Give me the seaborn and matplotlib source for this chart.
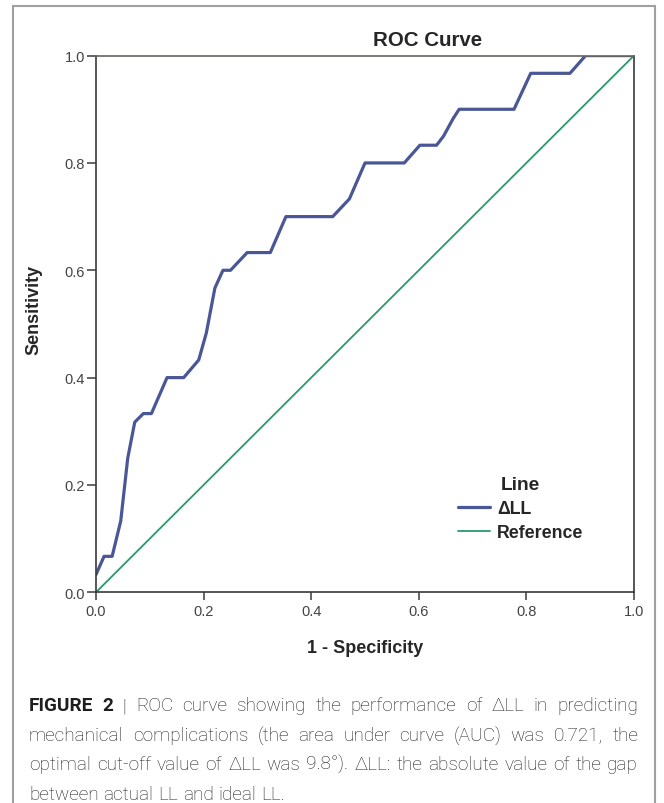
import matplotlib
matplotlib.use("Agg")
import matplotlib.pyplot as plt
import seaborn as sns
import pandas as pd
from matplotlib.patches import Rectangle

# ROC points (1 - specificity, sensitivity)
fpr = [0.0, 0.015, 0.030, 0.046, 0.059, 0.072, 0.088, 0.103, 0.132, 0.163,
       0.191, 0.205, 0.221, 0.236, 0.250, 0.281, 0.324, 0.353, 0.440, 0.471,
       0.500, 0.573, 0.602, 0.633, 0.646, 0.664, 0.675, 0.777, 0.808, 0.881,
       0.910, 1.0]
tpr = [0.033, 0.067, 0.067, 0.133, 0.250, 0.317, 0.333, 0.333, 0.400, 0.400,
       0.433, 0.483, 0.567, 0.600, 0.600, 0.633, 0.633, 0.700, 0.700, 0.733,
       0.800, 0.800, 0.833, 0.833, 0.850, 0.883, 0.900, 0.900, 0.967, 0.967,
       1.0, 1.0]
ref_x = [0.0, 1.0]
ref_y = [0.0, 1.0]
series_names = ["ΔLL", "Reference"]
tick_vals = [0.0, 0.2, 0.4, 0.6, 0.8, 1.0]
tick_labels = ["0.0", "0.2", "0.4", "0.6", "0.8", "1.0"]

caption_lines = [
    [("FIGURE 2", "bold"), ("| ROC curve showing the performance of ΔLL in predicting", "light")],
    [("mechanical complications (the area under curve (AUC) was 0.721, the", "light")],
    [("optimal cut-off value of ΔLL was 9.8°). ΔLL: the absolute value of the gap", "light")],
    [("between actual LL and ideal LL.", "light")],
]

sns.set_style("ticks")
plt.rcParams["font.family"] = ["Liberation Sans", "DejaVu Sans"]

W, H = 664, 804
fig = plt.figure(figsize=(W / 100, H / 100), dpi=100)
ax = fig.add_axes([96 / W, 1 - 593.3 / H, 538 / W, 536.7 / H])

roc = pd.DataFrame({"x": fpr, "y": tpr})
ref = pd.DataFrame({"x": ref_x, "y": ref_y})
sns.lineplot(data=roc, x="x", y="y", ax=ax, color="#4a5796", lw=2.3,
             label=series_names[0], estimator=None, sort=False)
sns.lineplot(data=ref, x="x", y="y", ax=ax, color="#279a6c", lw=1.3,
             label=series_names[1], estimator=None, sort=False)

ax.set_xlim(0, 1)
ax.set_ylim(0, 1)
ax.set_xticks(tick_vals, tick_labels)
ax.set_yticks(tick_vals, tick_labels)
ax.tick_params(axis="both", labelsize=10.5, labelcolor="#444444", color="#3a3a3a", width=1.1)
ax.tick_params(axis="x", length=5.5, pad=3)
ax.tick_params(axis="y", length=6.5, pad=1.5)
for side in ["left", "bottom", "right"]:
    ax.spines[side].set_color("#3a3a3a")
    ax.spines[side].set_linewidth(1.2)
ax.spines["top"].set_color("#6a6460")
ax.spines["top"].set_linewidth(1.2)

ax.set_xlabel("1 - Specificity", fontsize=13, fontweight="bold")
ax.set_ylabel("Sensitivity", fontsize=13, fontweight="bold")
ax.xaxis.set_label_coords(0.5, (593.3 - 640) / 536.7)
ax.yaxis.set_label_coords((42 - 96) / 538, (593.3 - 310) / 536.7)

fig.text(428 / W, 1 - 40 / H, "ROC Curve", ha="center", va="center",
         fontsize=14.8, fontweight="bold")

ax.legend(title="Line", loc="upper left", bbox_to_anchor=((458 - 96) / 538, (593.3 - 477) / 536.7),
          frameon=False, borderpad=0, borderaxespad=0, handlelength=1.8,
          handletextpad=0.4, labelspacing=0.4,
          prop={"weight": "bold", "size": 12.8},
          title_fontproperties={"weight": "bold", "size": 13.8})

# outer figure frame
fig.add_artist(Rectangle((13 / W, -0.05), (655 - 13) / W, 1 - 7 / H + 0.05,
                         transform=fig.transFigure, fill=False,
                         edgecolor="#a0a0a0", lw=1.5))

# justified caption, laid out word by word
cap_family = ["Roboto", "Liberation Sans", "DejaVu Sans"]
cap_size = 13.7
cap_y = [706, 736, 765, 795]
left_px, right_px = 29, 638
fig.canvas.draw()
renderer = fig.canvas.get_renderer()
space_px = cap_size * 100 / 72 * 0.25
for i, (parts, y) in enumerate(zip(caption_lines, cap_y)):
    words = []
    for txt, wt in parts:
        for w in txt.split(" "):
            words.append((w, "bold" if wt == "bold" else "light"))
    texts = [fig.text(0, 1 - y / H, w, fontsize=cap_size, fontweight=wt,
                      family=cap_family, va="center", ha="left", color="#1e1e1e")
             for w, wt in words]
    widths = [t.get_window_extent(renderer).width for t in texts]
    if i == len(caption_lines) - 1:
        gap = space_px
    else:
        gap = (right_px - left_px - sum(widths)) / (len(words) - 1)
    x = left_px
    for t, w in zip(texts, widths):
        t.set_x(x / W)
        x += w + gap

fig.savefig("out.png", dpi=100)
